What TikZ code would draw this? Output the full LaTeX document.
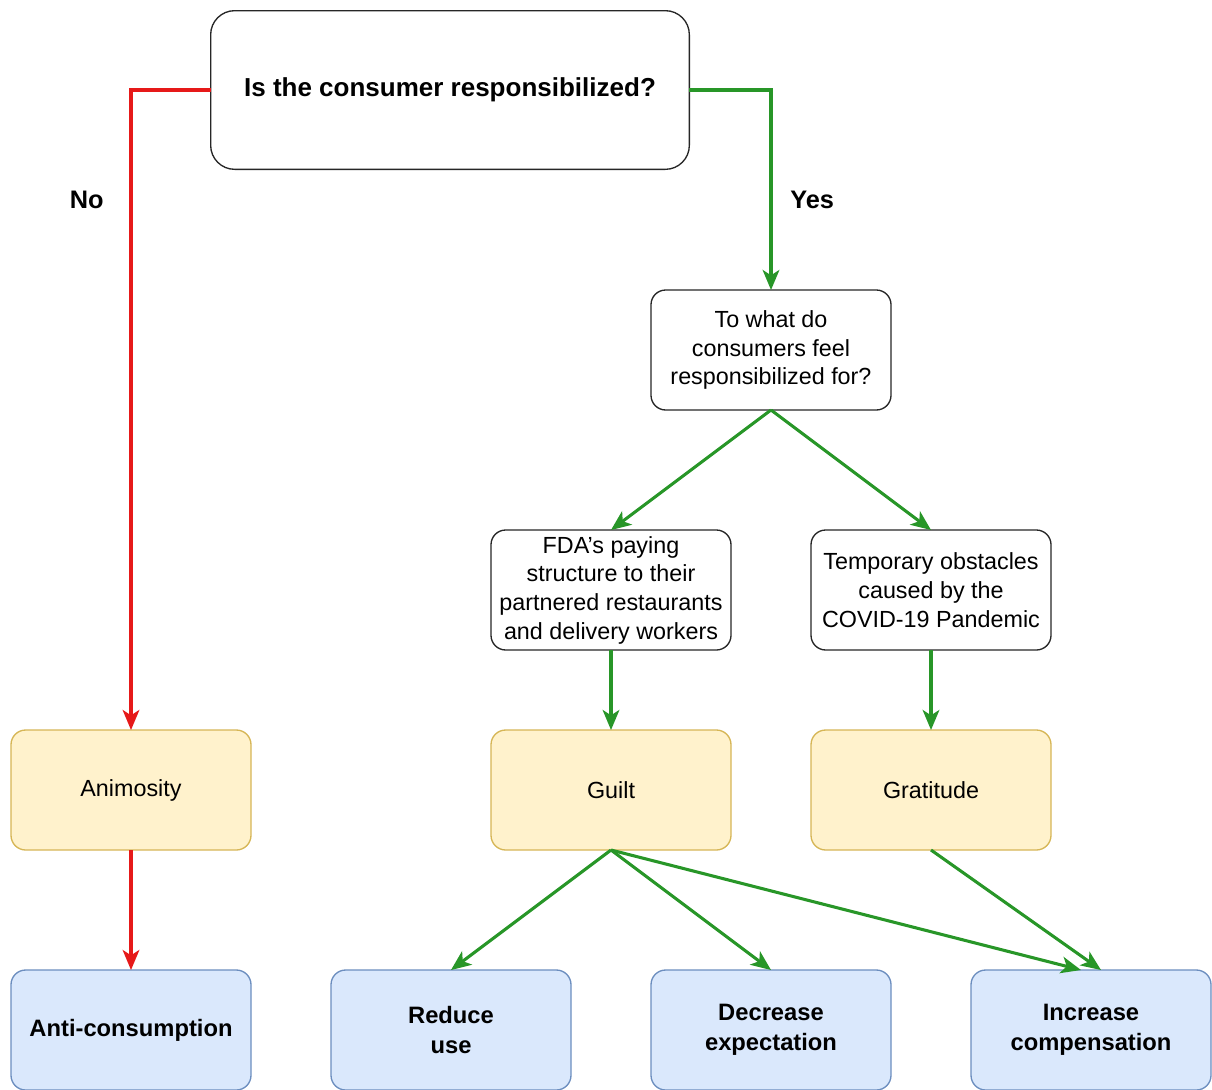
\documentclass[tikz,border=0pt]{standalone}
\usepackage{fontspec}
\setmainfont{Liberation Sans}
\usepackage{tikz}
\usetikzlibrary{shapes.geometric, arrows.meta, calc, positioning}
\definecolor{noRed}{RGB}{230,25,25}
\definecolor{yesGreen}{RGB}{40,150,40}
\definecolor{emoFill}{HTML}{FFF2CC}
\definecolor{emoLine}{HTML}{D6B656}
\definecolor{actFill}{HTML}{DAE8FC}
\definecolor{actLine}{HTML}{6C8EBF}
\tikzstyle{question} = [rectangle, rounded corners=11pt, line width=1pt, minimum width=180pt, minimum height=90pt, inner sep=2pt, outer sep=0pt, align=center, draw=black!85, font=\fontsize{17.5}{21.5}\selectfont]
\tikzstyle{emotion} = [question, fill=emoFill, draw=emoLine]
\tikzstyle{action} = [question, fill=actFill, draw=actLine, font=\fontsize{17.8}{22.5}\selectfont\bfseries]
\tikzstyle{branch} = [text=black, font=\fontsize{19}{24}\selectfont\bfseries]
\tikzstyle{arrow} = [line width=2.3pt, -{Stealth[length=15pt,width=12.5pt,inset=4pt]}]

\begin{document}
\begin{tikzpicture}[x=0.75pt, y=-0.75pt, node distance=60pt]
	\useasboundingbox (0,0) rectangle (1212,1089);
	\node (Responsible) [question, rounded corners=18pt, minimum width=359pt, minimum height=119pt, font=\fontsize{19.5}{24}\selectfont\bfseries] at (450,90) {Is the consumer responsibilized?};
	\node (Animosity) [emotion] at (131,790) {Animosity};
	\node (Guilt) [emotion, right = 180pt of Animosity] {Guilt};
	\node (Gratitude) [emotion, right = of Guilt] {Gratitude};
	\node (Structure) [question, above = of Guilt] {FDA's paying\\structure to their\\partnered restaurants\\and delivery workers};
	\node (Obstacles) [question, above = of Gratitude] {Temporary obstacles\\caused by the\\COVID-19 Pandemic};
	\coordinate (Between) at ($(Structure.north)!0.5!(Obstacles.north)$);
	\node (Cause) [question, above = 90pt of Between] {To what do\\consumers feel\\responsibilized for?};
	\node (AntiConsumption) [action, below = 90pt of Animosity] {Anti-consumption};
	\node (ReduceUse) [action, right = of AntiConsumption] {Reduce\\use};
	\node (DecreaseExp) [action, right = of ReduceUse] {Decrease\\expectation};
	\node (IncreaseComp) [action, right = of DecreaseExp] {Increase\\compensation};
	\draw [arrow, noRed] (Responsible.west) -| node[branch, pos=0.586, left=16pt]{No} (Animosity.north);
	\draw [arrow, noRed] (Animosity) -- (AntiConsumption);
	\draw [arrow, yesGreen] (Responsible.east) -| node[branch, pos=0.775, right=10pt]{Yes} (Cause.north);
	\draw [arrow, yesGreen] (Cause.south) -- (Structure.north);
	\draw [arrow, yesGreen] (Cause.south) -- (Obstacles.north);
	\draw [arrow, yesGreen] (Structure) -- (Guilt);
	\draw [arrow, yesGreen] (Obstacles) -- (Gratitude);
	\draw [arrow, yesGreen] (Guilt.south) -- (ReduceUse.north);
	\draw [arrow, yesGreen] (Guilt.south) -- (DecreaseExp.north);
	\draw [arrow, yesGreen] (Guilt.south) -- ([xshift=-7.5pt]IncreaseComp.north);
	\draw [arrow, yesGreen] (Gratitude.south) -- ([xshift=7.5pt]IncreaseComp.north);
\end{tikzpicture}
\end{document}
